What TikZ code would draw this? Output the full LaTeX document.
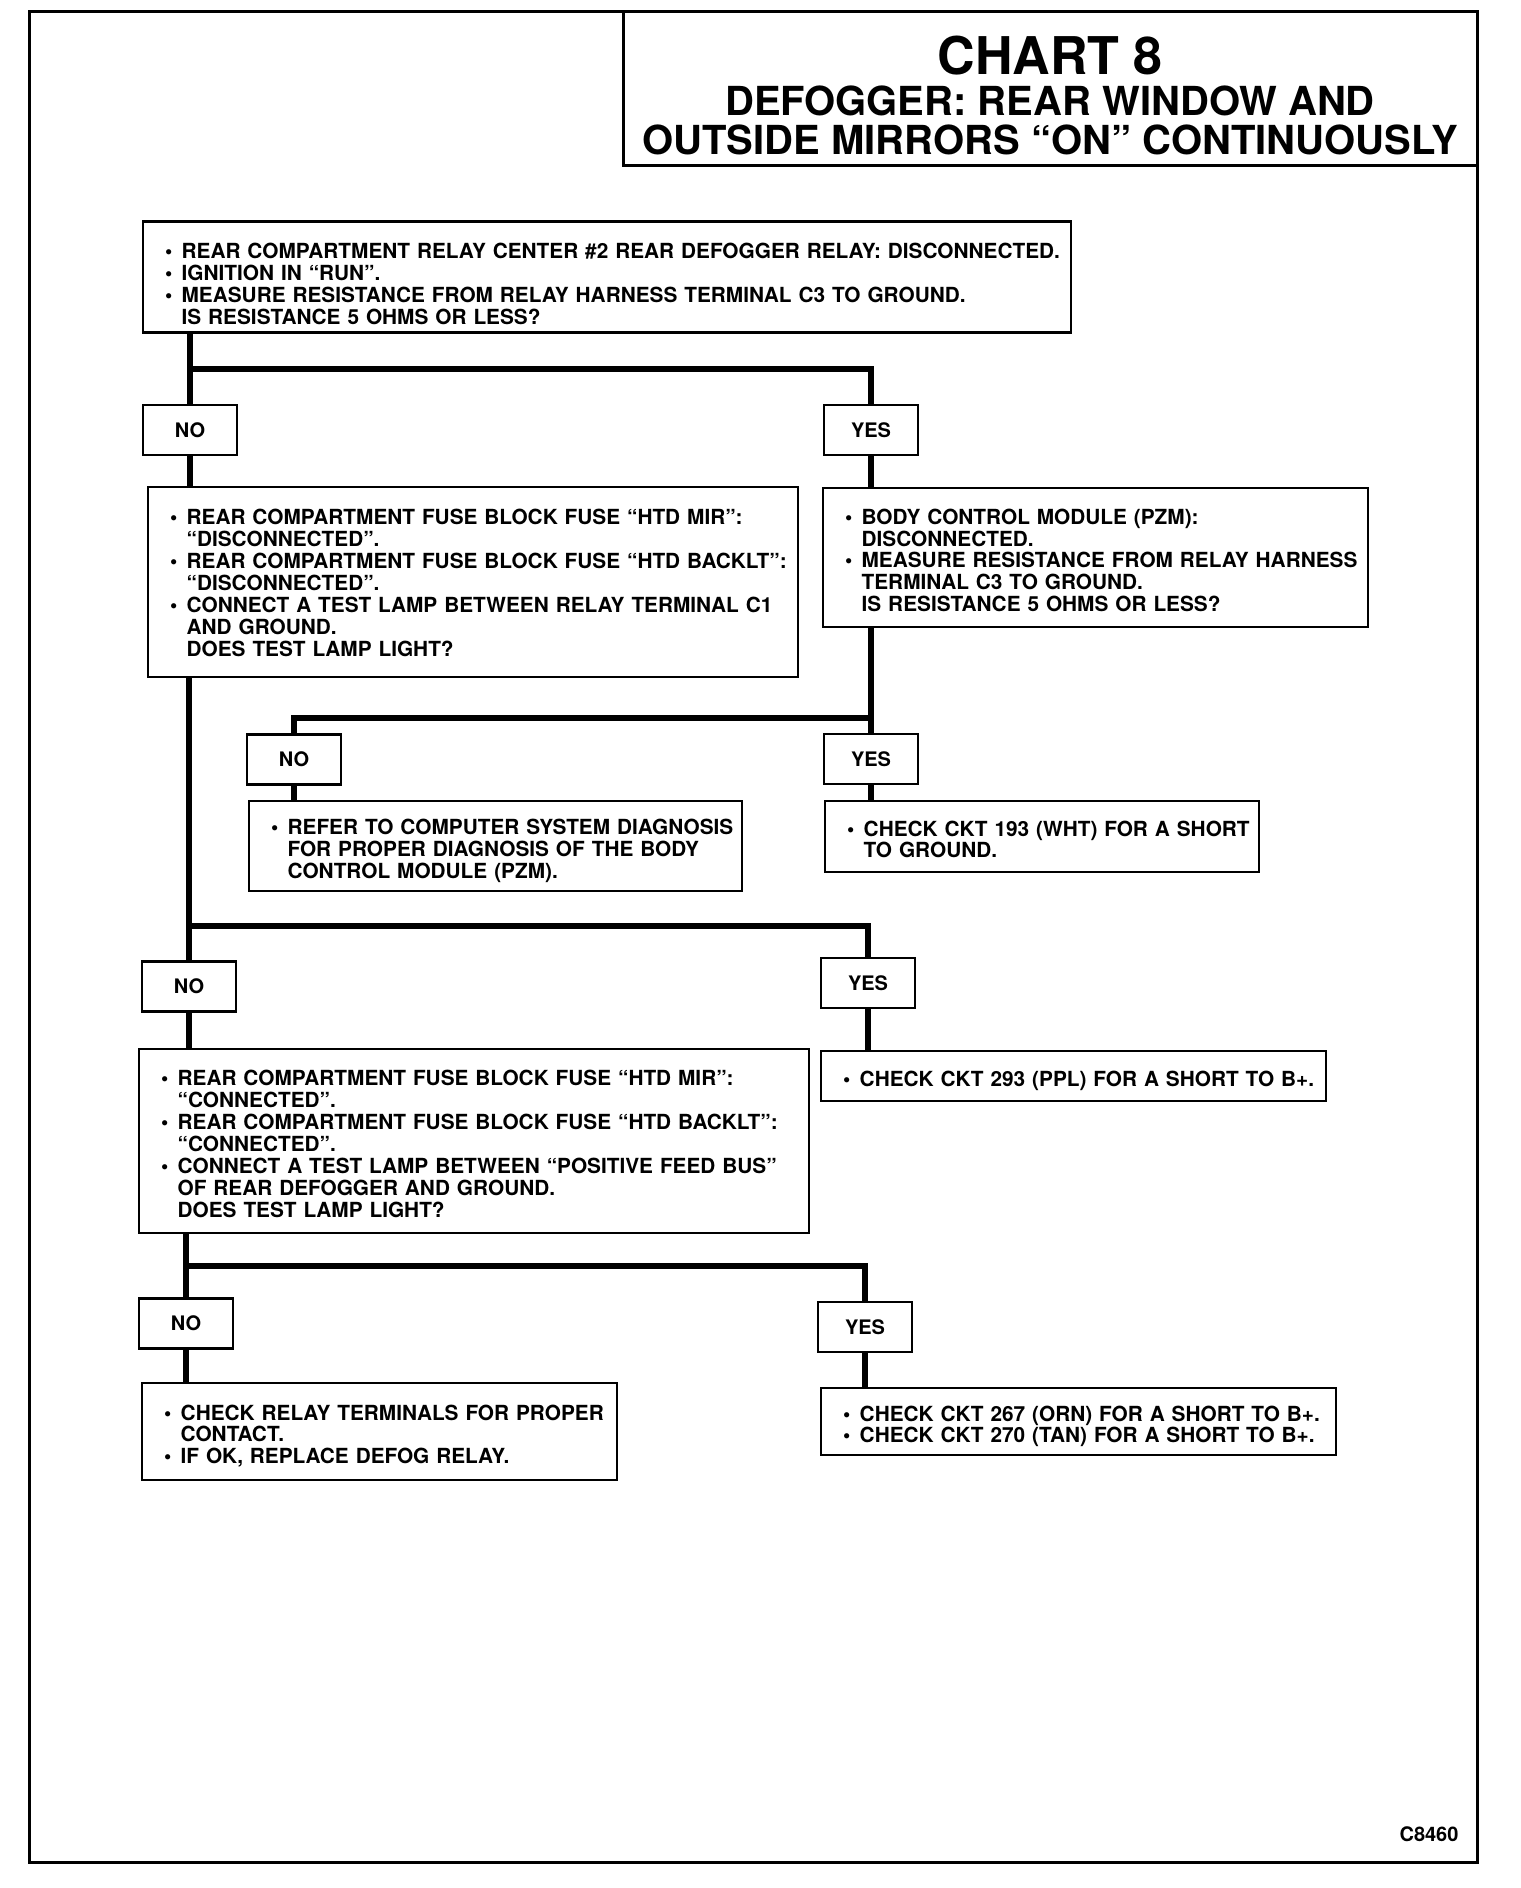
\documentclass[tikz,border=0pt]{standalone}
\usepackage{fontspec}
\setmainfont{TeX Gyre Heros}
\newcommand{\bul}{\makebox[0.8em][l]{\textbullet}}
\newcommand{\bcont}{\hspace*{0.8em}}
\newcommand{\rows}[2][3pt]{\raisebox{-#1}[\height][\depth]{%
    \begin{tabular}{@{}l@{}}#2\end{tabular}}}
\tikzset{
    stepbox/.style={draw, line width=1.2pt, inner xsep=11pt, inner ysep=0pt,
        align=left, font=\fontsize{10.4}{10.8}\selectfont\bfseries},
    answer/.style={draw, line width=1.2pt, inner sep=0pt,
        minimum width=47pt, minimum height=25pt,
        font=\fontsize{10}{12}\selectfont\bfseries},
    wire/.style={line width=3pt},
}
\begin{document}
\begin{tikzpicture}[x=0.5pt, y=-0.5pt]
    \useasboundingbox (0,0) rectangle (1520,1888);
    \draw[line width=1.5pt] (29,12) rectangle (1477,1862);

    % title
    \node[draw, line width=1.5pt, minimum width=427pt, minimum height=77pt]
        (title) at (1050,89) {};
    \node[font=\fontsize{26}{26}\selectfont\bfseries] (t1) at (1050,56) {CHART 8};
    \node[font=\fontsize{20}{20}\selectfont\bfseries] (t2) at (1050,101)
        {DEFOGGER: REAR WINDOW AND};
    \node[font=\fontsize{20}{20}\selectfont\bfseries] (t3) at (1050,140)
        {OUTSIDE MIRRORS “ON” CONTINUOUSLY};

    % steps
    \node[stepbox, minimum width=464pt, text width=442pt, minimum height=55.5pt]
        (b1) at (607,277) {\rows[5pt]{%
        \bul REAR COMPARTMENT RELAY CENTER \#2 REAR DEFOGGER RELAY: DISCONNECTED.\\
        \bul IGNITION IN “RUN”.\\
        \bul MEASURE RESISTANCE FROM RELAY HARNESS TERMINAL C3 TO GROUND.\\
        \bcont IS RESISTANCE 5 OHMS OR LESS?}};
    \node[stepbox, minimum width=325pt, text width=303pt, minimum height=95pt]
        (b2) at (473,582) {\rows[2pt]{%
        \bul REAR COMPARTMENT FUSE BLOCK FUSE “HTD MIR”:\\
        \bcont “DISCONNECTED”.\\
        \bul REAR COMPARTMENT FUSE BLOCK FUSE “HTD BACKLT”:\\
        \bcont “DISCONNECTED”.\\
        \bul CONNECT A TEST LAMP BETWEEN RELAY TERMINAL C1\\
        \bcont AND GROUND.\\
        \bcont DOES TEST LAMP LIGHT?}};
    \node[stepbox, minimum width=272.5pt, text width=250.5pt, minimum height=69.5pt]
        (b3) at (1095.5,557.5) {\rows{%
        \bul BODY CONTROL MODULE (PZM):\\
        \bcont DISCONNECTED.\\
        \bul MEASURE RESISTANCE FROM RELAY HARNESS\\
        \bcont TERMINAL C3 TO GROUND.\\
        \bcont IS RESISTANCE 5 OHMS OR LESS?}};
    \node[stepbox, minimum width=246.5pt, text width=224.5pt, minimum height=45pt]
        (b4) at (495.5,846) {\rows{%
        \bul REFER TO COMPUTER SYSTEM DIAGNOSIS\\
        \bcont FOR PROPER DIAGNOSIS OF THE BODY\\
        \bcont CONTROL MODULE (PZM).}};
    \node[stepbox, minimum width=217pt, text width=195pt, minimum height=35.5pt]
        (b5) at (1042,836.5) {\rows{%
        \bul CHECK CKT 193 (WHT) FOR A SHORT\\
        \bcont TO GROUND.}};
    \node[stepbox, minimum width=335pt, text width=313pt, minimum height=92pt]
        (b6) at (474,1141) {\rows{%
        \bul REAR COMPARTMENT FUSE BLOCK FUSE “HTD MIR”:\\
        \bcont “CONNECTED”.\\
        \bul REAR COMPARTMENT FUSE BLOCK FUSE “HTD BACKLT”:\\
        \bcont “CONNECTED”.\\
        \bul CONNECT A TEST LAMP BETWEEN “POSITIVE FEED BUS”\\
        \bcont OF REAR DEFOGGER AND GROUND.\\
        \bcont DOES TEST LAMP LIGHT?}};
    \node[stepbox, minimum width=252.5pt, text width=230.5pt, minimum height=25pt]
        (b7) at (1073.5,1076) {\rows{%
        \bul CHECK CKT 293 (PPL) FOR A SHORT TO B+.}};
    \node[stepbox, minimum width=237.5pt, text width=215.5pt, minimum height=48.5pt]
        (b8) at (379.5,1431.5) {\rows{%
        \bul CHECK RELAY TERMINALS FOR PROPER\\
        \bcont CONTACT.\\
        \bul IF OK, REPLACE DEFOG RELAY.}};
    \node[stepbox, minimum width=257.5pt, text width=235.5pt, minimum height=33.5pt]
        (b9) at (1078.5,1421.5) {\rows{%
        \bul CHECK CKT 267 (ORN) FOR A SHORT TO B+.\\
        \bul CHECK CKT 270 (TAN) FOR A SHORT TO B+.}};

    % answers
    \node[answer] (no1) at (190,430) {NO};
    \node[answer] (yes1) at (871,430) {YES};
    \node[answer] (no2) at (294,759.5) {NO};
    \node[answer] (yes2) at (871,759) {YES};
    \node[answer] (no3) at (189,986.5) {NO};
    \node[answer] (yes3) at (868,983) {YES};
    \node[answer] (no4) at (186,1323.5) {NO};
    \node[answer] (yes4) at (865,1327) {YES};

    \node[font=\fontsize{10}{12}\selectfont\bfseries] (code) at (1429,1834) {C8460};

    % branch points
    \coordinate (j1) at (190,369);
    \coordinate (j2) at (871,718);
    \coordinate (j3) at (189,926);
    \coordinate (j4) at (186,1266);

    \foreach \a/\b in {b1/no1, b3/yes2, b2/no3, b6/no4} {
        \draw[wire] (\a.south -| \b) -- (\b.north);
    }
    \foreach \a/\b in {j1/yes1, j2/no2, j3/yes3, j4/yes4} {
        \draw[wire] (\a) -| (\b.north);
    }
    \foreach \a/\b in {
        no1/b2, yes1/b3, no2/b4, yes2/b5,
        no3/b6, yes3/b7, no4/b8, yes4/b9%
    } {
        \draw[wire] (\a.south) -- (\b.north -| \a);
    }
\end{tikzpicture}
\end{document}
